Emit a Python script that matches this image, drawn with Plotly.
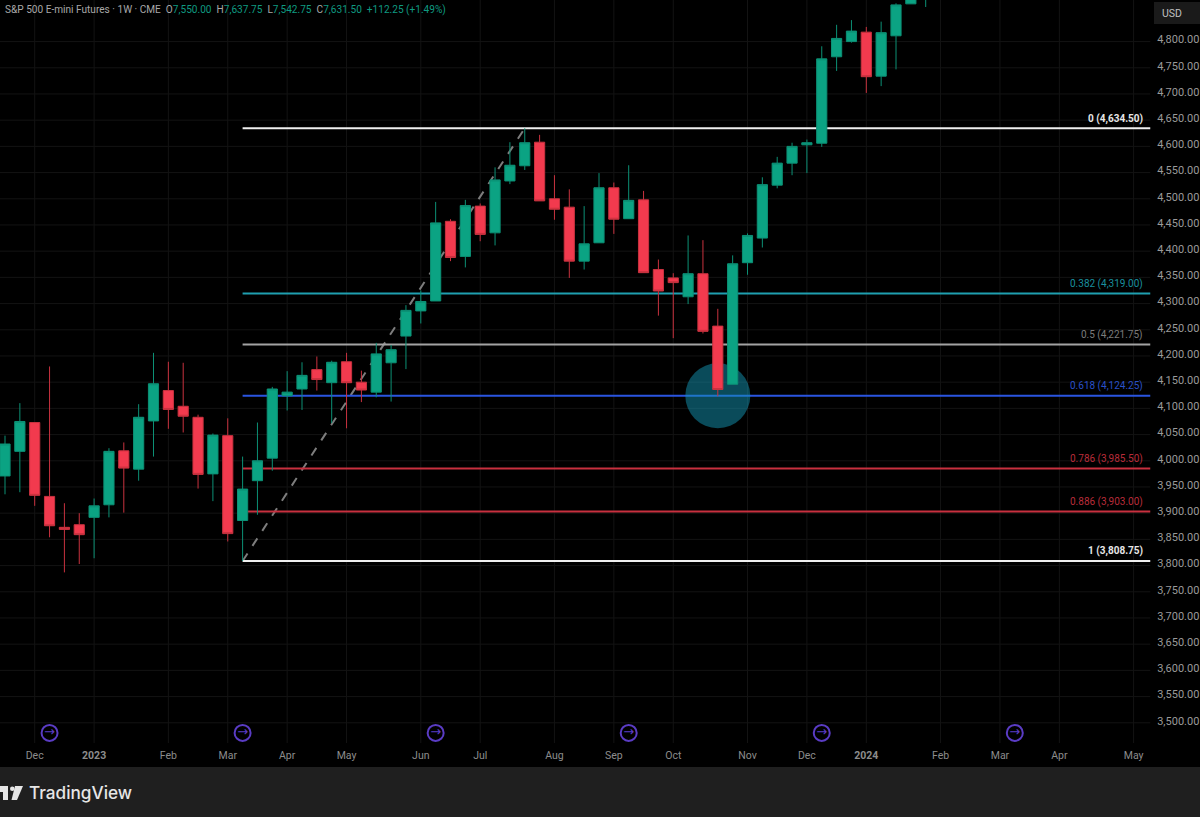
import pandas as pd
import plotly.graph_objects as go

open_ = [3971,4018,4073,3932,3873,3878,3892,3916,4019,3984,4076,4134,4104,4083,3975,4048,3886,3962,4005,4124,
         4137,4174,4149,4189,4150,4131,4187,4238,4286,4305,4457,4390,4486,4435,4534,4563,4608,4500,4484,4381,
         4416,4521,4462,4498,4365,4349,4313,4357,4257,4146,4378,4425,4526,4568,4603,4606,4771,4800,4818,4734,
         4811,4872,4890]
high = [4048,4110,4073,4180,3919,3900,3928,4024,4035,4108,4206,4189,4187,4088,4052,4081,4008,4073,4141,4171,
        4188,4199,4191,4206,4172,4225,4221,4297,4325,4494,4461,4498,4491,4560,4608,4634.5,4622,4545,4518,4486,
        4549,4531,4564,4515,4384,4358,4430,4421,4290,4392,4434,4541,4580,4607,4613,4791,4832,4841,4828,4838,
        4873,4900,4950]
low = [3936,3940,3914,3854,3787,3803,3814,3892,3901,3962,4008,4061,4054,3947,3923,3846,3808.75,3897,3981,4096,
       4097,4134,4072,4062,4112,4121,4113,4175,4262,4305,4381,4369,4419,4411,4528,4555,4496,4460,4349,4365,
       4416,4433,4462,4359,4277,4234,4299,4243,4123,4146,4355,4407,4520,4545,4549,4599,4744,4798,4702,4715,
       4747,4872,4866]
close = [4032,4075,3934,3876,3869,3859,3914,4018,3986,4083,4147,4098,4085,3974,4049,3861,3946,4000,4137,4131,
         4163,4155,4188,4149,4135,4204,4212,4287,4304,4454,4388,4487,4432,4536,4564,4607,4496,4480,4381,4414,
         4521,4461,4497,4359,4324,4340,4357,4247,4136,4376,4430,4527,4568,4600,4607,4767,4806,4820,4733,4817,
         4870,4890,4930]
first_week = "2022-11-21"

month_labels = ["Dec","<b>2023</b>","Feb","Mar","Apr","May","Jun","Jul","Aug","Sep","Oct","Nov","Dec","<b>2024</b>","Feb","Mar","Apr","May"]
month_dates = ["2022-12-05","2023-01-02","2023-02-06","2023-03-06","2023-04-03","2023-05-01","2023-06-05","2023-07-03",
               "2023-08-07","2023-09-04","2023-10-02","2023-11-06","2023-12-04","2024-01-01","2024-02-05","2024-03-04",
               "2024-04-01","2024-05-06"]
price_ticks = list(range(3500, 4801, 50))
fib_ratios = ["0","0.382","0.5","0.618","0.786","0.886","1"]
fib_prices = [4634.50,4319.00,4221.75,4124.25,3985.50,3903.00,3808.75]
fib_colors = ["#f0f0f0","#1f9fb0","#a3a3a3","#2a55e0","#c8303f","#c8303f","#f0f0f0"]
fib_text_colors = ["#e6e6e6","#1a8f9e","#7c7c7c","#2a50c8","#b92c3a","#b92c3a","#e6e6e6"]
fib_start = "2023-03-13"
swing_dates = ["2023-03-13","2023-07-24"]
swing_prices = [3808.75,4634.50]
rollover_dates = ["2022-12-12","2023-03-13","2023-06-12","2023-09-11","2023-12-11","2024-03-11"]
touch_date = "2023-10-23"
touch_price = 4124.25

W, H = 1200, 817
PLOT_R, PLOT_B, FOOT = 1150.5, 743, 767
dates = pd.date_range(first_week, periods=len(close), freq="7D")
PX_WEEK = 14.85
t0 = pd.Timestamp(first_week)
x_lo = t0 + pd.Timedelta(weeks=(0 - 5) / PX_WEEK)
x_hi = t0 + pd.Timedelta(weeks=(PLOT_R - 5) / PX_WEEK)
y_hi = 4634.5 + 128.3 / 0.524
y_lo = 4634.5 - (PLOT_B - 128.3) / 0.524
GRID = "#131313"
ICON = "#5a3cc4"

fig = go.Figure()
fig.add_trace(go.Candlestick(
    x=dates, open=open_, high=high, low=low, close=close, whiskerwidth=0,
    increasing=dict(line=dict(color="#0c9075", width=1), fillcolor="#0ba383"),
    decreasing=dict(line=dict(color="#c9323f", width=1), fillcolor="#f23a4e"),
    showlegend=False, hoverinfo="skip"))
fig.add_trace(go.Scatter(x=rollover_dates, y=[3480.7]*len(rollover_dates), mode="markers", showlegend=False,
    marker=dict(symbol="circle-open", size=16, color=ICON, line=dict(width=2, color=ICON)), hoverinfo="skip"))
fig.add_trace(go.Scatter(x=rollover_dates, y=[3480.7]*len(rollover_dates), mode="text", showlegend=False,
    text=["→"]*len(rollover_dates), textfont=dict(size=13, color=ICON, family="DejaVu Sans"), textposition="middle center", hoverinfo="skip"))

shapes = []
for p in price_ticks:
    shapes.append(dict(type="line", xref="x", yref="y", x0=x_lo, x1=x_hi, y0=p, y1=p, layer="below", line=dict(color=GRID, width=1)))
for d in month_dates:
    shapes.append(dict(type="line", xref="x", yref="y", x0=d, x1=d, y0=y_lo, y1=y_hi, layer="below", line=dict(color=GRID, width=1)))
shapes.append(dict(type="line", xref="x", yref="y", x0=swing_dates[0], x1=swing_dates[1], y0=swing_prices[0], y1=swing_prices[1],
                   layer="below", line=dict(color="#7d7d7d", width=2, dash="9px,9px")))
for p, c, r in zip(fib_prices, fib_colors, fib_ratios):
    shapes.append(dict(type="line", xref="x", yref="y", x0=fib_start, x1=x_hi, y0=p, y1=p, layer="below",
                       line=dict(color=c, width=2)))
shapes.append(dict(type="circle", xref="x", yref="y", xsizemode="pixel", ysizemode="pixel", xanchor=touch_date, yanchor=touch_price,
                   x0=-32.5, x1=32.5, y0=-32.5, y1=32.5, layer="below", fillcolor="rgba(20,150,180,0.5)", line=dict(width=0)))
# footer + USD badge
shapes.append(dict(type="rect", xref="paper", yref="paper", x0=0, x1=1, y0=0, y1=(H-FOOT)/H, fillcolor="#1f1f1f", line=dict(width=0), layer="above"))
shapes.append(dict(type="rect", xref="paper", yref="paper", x0=1154/W, x1=1.01, y0=1-24/H, y1=1-2/H, fillcolor="#1a1a1a", line=dict(width=0), layer="above"))
# logo
LOGO = "#e6e6e6"
shapes.append(dict(type="path", xref="paper", yref="paper", fillcolor=LOGO, line=dict(width=0), layer="above",
                   path=f"M 0 {1-786/H} L {8/W} {1-786/H} L {8/W} {1-800/H} L {3/W} {1-800/H} L {3/W} {1-792/H} L 0 {1-792/H} Z"))
shapes.append(dict(type="circle", xref="paper", yref="paper", x0=10/W, x1=14.5/W, y0=1-791/H, y1=1-786.5/H, fillcolor=LOGO, line=dict(width=0), layer="above"))
shapes.append(dict(type="path", xref="paper", yref="paper", path=f"M {15/W} {1-786/H} L {23/W} {1-786/H} L {17/W} {1-800/H} L {11.5/W} {1-800/H} Z", fillcolor=LOGO, line=dict(width=0), layer="above"))

ann = []
for r, p, c in zip(fib_ratios, fib_prices, fib_text_colors):
    txt = f"{r} ({p:,.2f})"
    if r in ("0", "1"):
        txt = f"<b>{txt}</b>"
    ann.append(dict(xref="paper", yref="y", x=1145/W, y=p, text=txt, showarrow=False, xanchor="right", yanchor="middle",
                    yshift=9.5, font=dict(size=10, color=c, family="Roboto")))
G = "#0f9a80"
hdr = (f'<span style="color:#a8a8a8">S&amp;P 500 E-mini Futures · 1W · CME  O</span><span style="color:{G}">7,550.00</span>'
       f'  <span style="color:#a8a8a8">H</span><span style="color:{G}">7,637.75</span>'
       f'  <span style="color:#a8a8a8">L</span><span style="color:{G}">7,542.75</span>'
       f'  <span style="color:#a8a8a8">C</span><span style="color:{G}">7,631.50</span>'
       f'  <span style="color:{G}">+112.25 (+1.49%)</span>')
ann.append(dict(xref="paper", yref="paper", x=3/W, y=1-10/H, text=hdr, showarrow=False, xanchor="left", yanchor="middle",
                font=dict(size=10.1, family="Roboto", color="#a8a8a8")))
ann.append(dict(xref="paper", yref="paper", x=1160/W, y=1-13/H, text="USD", showarrow=False, xanchor="left", yanchor="middle",
                font=dict(size=10.5, family="Roboto", color="#c0c0c0")))
ann.append(dict(xref="paper", yref="paper", x=27/W, y=1-792/H, text="TradingView", showarrow=False, xanchor="left", yanchor="middle",
                font=dict(size=17.2, family="Inter", color=LOGO, weight=500)))

fig.update_layout(
    width=W, height=H, margin=dict(l=0, r=0, t=0, b=0), autosize=False,
    paper_bgcolor="#000000", plot_bgcolor="#000000", boxgap=0.02, hovermode=False,
    shapes=shapes, annotations=ann, showlegend=False,
    font=dict(family="Roboto", size=11, color="#9a9a9a"),
    xaxis=dict(domain=[0, PLOT_R/W], range=[x_lo, x_hi], type="date", rangeslider=dict(visible=False),
               tickmode="array", tickvals=month_dates, ticktext=month_labels, tickfont=dict(size=10.5, color="#8c8c8c"),
               showgrid=False, showline=False, zeroline=False, ticks="outside", ticklen=2, tickcolor="rgba(0,0,0,0)", anchor="y"),
    yaxis=dict(domain=[(H-PLOT_B)/H, 1], range=[y_lo, y_hi], side="right", anchor="x", tickmode="array",
               tickvals=price_ticks, ticktext=[f"{v:,.2f}" for v in price_ticks], tickfont=dict(size=11, color="#9a9a9a"),
               ticklabelshift=-2,
               showgrid=False, showline=False, zeroline=False, ticks="outside", ticklen=3.5, tickcolor="rgba(0,0,0,0)"),
)
fig.write_html("out.html", config=dict(displayModeBar=False),
               post_script="document.body.style.margin='0';document.body.style.background='#000';")
